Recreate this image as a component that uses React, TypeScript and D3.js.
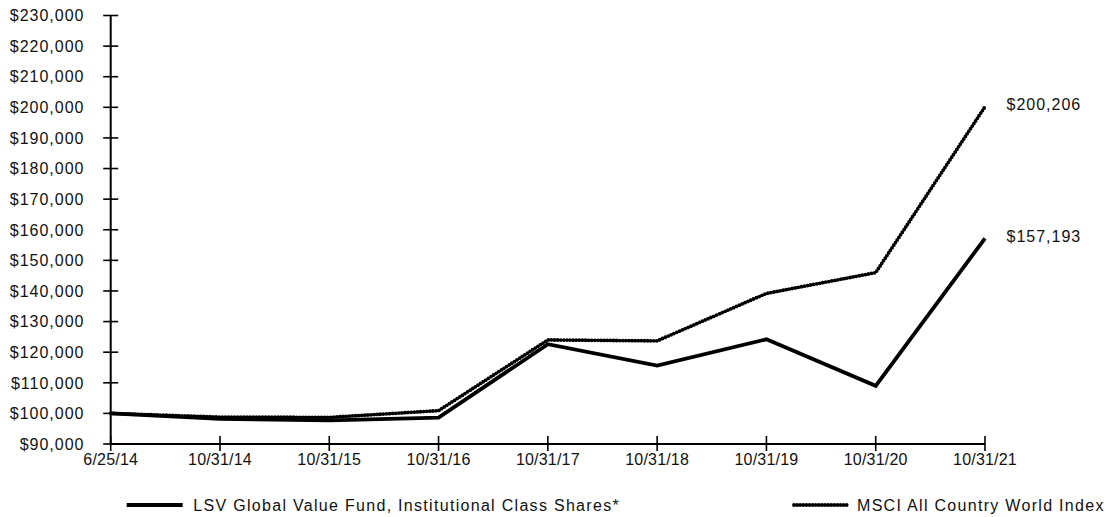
import React from "react";
import * as d3 from "d3";

const categories = ["6/25/14", "10/31/14", "10/31/15", "10/31/16", "10/31/17", "10/31/18", "10/31/19", "10/31/20", "10/31/21"];
const fundValues = [100000, 98200, 97700, 98600, 122600, 115600, 124200, 109000, 157193];
const indexValues = [100000, 98800, 98700, 100900, 124000, 123700, 139200, 146000, 200206];
const yTicks = [90000, 100000, 110000, 120000, 130000, 140000, 150000, 160000, 170000, 180000, 190000, 200000, 210000, 220000, 230000];
const fundName = "LSV Global Value Fund, Institutional Class Shares*";
const indexName = "MSCI All Country World Index";

const W = 1114;
const H = 517;
const FONT = "'Liberation Sans', Arial, Helvetica, sans-serif";

export default function App() {
  const x = d3.scalePoint<string>().domain(categories).range([110.7, 985]);
  const y = d3.scaleLinear().domain([90000, 230000]).range([444, 15.5]);
  const fmt = (v: number) => "$" + d3.format(",")(v);

  const line = d3
    .line<number>()
    .x((_, i) => x(categories[i]) as number)
    .y((d) => y(d));

  const x0 = x.range()[0];
  const x1 = x.range()[1];
  const last = categories.length - 1;

  return (
    <svg
      width={W}
      height={H}
      style={{ position: "absolute", left: 0, top: 0, display: "block", background: "#fff" }}
      fontFamily={FONT}
    >
      {/* y axis */}
      <line x1={x0} x2={x0} y1={y(230000)} y2={y(90000)} stroke="#000" strokeWidth={2} />
      {yTicks.map((t) => (
        <g key={t}>
          <line x1={x0 - 7.5} x2={x0 + 7.5} y1={y(t)} y2={y(t)} stroke="#000" strokeWidth={1.6} />
          <text
            x={84.5}
            y={y(t)}
            dy="0.36em"
            textAnchor="end"
            fontSize={16}
            letterSpacing={1}
            fill="#111"
          >
            {fmt(t)}
          </text>
        </g>
      ))}
      {/* x axis */}
      <line x1={x0} x2={x1} y1={y(90000)} y2={y(90000)} stroke="#000" strokeWidth={2} />
      {categories.map((c) => (
        <g key={c}>
          <line x1={x(c)} x2={x(c)} y1={y(90000) - 8} y2={y(90000) + 7} stroke="#000" strokeWidth={1.6} />
          <text x={x(c) as number} y={464.5} textAnchor="middle" fontSize={16} letterSpacing={0.2} fill="#111">
            {c}
          </text>
        </g>
      ))}

      {/* index line (beaded) */}
      <path
        d={line(indexValues) || ""}
        fill="none"
        stroke="#000"
        strokeWidth={3.8}
        strokeDasharray="0 3.1"
        strokeLinecap="round"
        strokeLinejoin="round"
      />
      {/* fund line */}
      <path d={line(fundValues) || ""} fill="none" stroke="#000" strokeWidth={3.8} strokeLinejoin="miter" />

      {/* end labels */}
      <text x={1006.5} y={y(indexValues[last]) - 2.5} dy="0.36em" fontSize={16} letterSpacing={1} fill="#111">
        {fmt(indexValues[last])}
      </text>
      <text x={1006.5} y={y(fundValues[last]) - 2} dy="0.36em" fontSize={16} letterSpacing={1} fill="#111">
        {fmt(fundValues[last])}
      </text>

      {/* legend */}
      <line x1={126.7} x2={182.7} y1={505} y2={505} stroke="#000" strokeWidth={4} />
      <text x={193.3} y={510.5} fontSize={16} letterSpacing={1.3} fill="#111">
        {fundName}
      </text>
      <line
        x1={794}
        x2={849}
        y1={505}
        y2={505}
        stroke="#000"
        strokeWidth={3.8}
        strokeDasharray="0 3.1"
        strokeLinecap="round"
      />
      <text x={857} y={510.5} fontSize={16} letterSpacing={1.3} fill="#111">
        {indexName}
      </text>
    </svg>
  );
}
